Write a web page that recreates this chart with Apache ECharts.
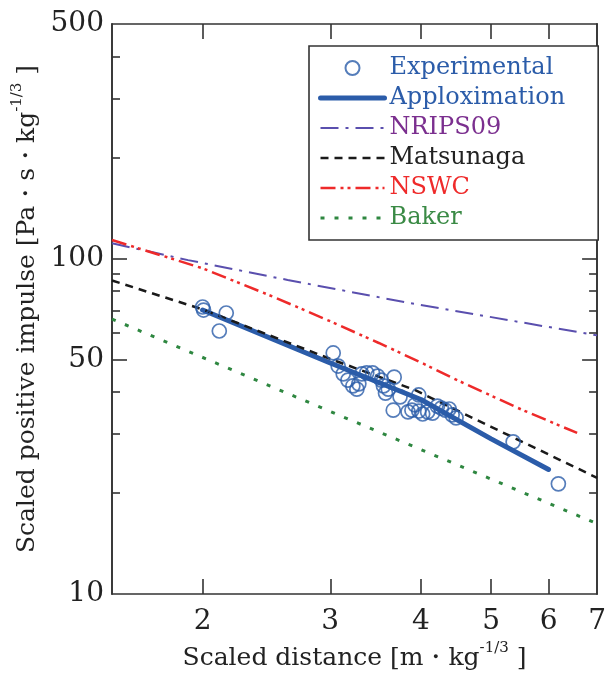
<!DOCTYPE html>
<html>
<head>
<meta charset="utf-8">
<script src="https://cdn.jsdelivr.net/npm/echarts@6/dist/echarts.min.js"></script>
<style>
  html, body { margin: 0; padding: 0; background: #fff; }
  #chart { width: 609px; height: 687px; }
</style>
</head>
<body>
<div id="chart"></div>
<script>
// Measured scaled impulse vs scaled distance
const experimentalX = [2.000, 2.006, 2.156, 2.109, 3.028, 3.076, 3.126, 3.173, 3.223, 3.264,
  3.285, 3.316, 3.368, 3.431, 3.486, 3.529, 3.552, 3.607, 3.675, 3.575,
  3.664, 3.744, 3.840, 3.888, 3.925, 3.973, 3.973, 4.023, 4.087, 4.151,
  4.216, 4.269, 4.323, 4.377, 4.418, 4.473, 5.362, 6.19];
const experimentalY = [71.7, 70.2, 68.8, 60.8, 52.3, 47.8, 45.3, 43.4, 41.7, 40.8,
  42.3, 45.3, 45.6, 45.6, 44.6, 43.4, 41.7, 40.8, 44.3, 39.7,
  35.3, 38.7, 34.9, 35.3, 36.6, 39.2, 35.1, 34.4, 34.9, 34.6,
  36.3, 35.8, 35.3, 35.6, 34.2, 33.5, 28.4, 21.3];

// Fitted curve
const approxX = [2, 3, 4, 5, 6];
const approxY = [70.2, 48.8, 38.0, 29.0, 23.5];

// Reference curves
const nripsX = [1.5, 1.91, 2.62, 3.84, 7];
const nripsY = [111, 98.9, 86.3, 73.8, 59.0];

const matsunagaX = [1.5, 1.913, 2, 3, 3.92, 5, 7];
const matsunagaY = [86.0, 72.7, 70.5, 50.2, 40.6, 31.5, 22.2];

const nswcX = [1.5, 2, 2.5, 3, 3.5, 4, 4.5, 5, 5.5, 6, 6.57];
const nswcY = [113.5, 93.5, 77, 65, 56, 49, 43.3, 39, 35.5, 32.8, 30.2];

const bakerX = [1.5, 3, 5, 7];
const bakerY = [66.0, 35.0, 22.0, 16.2];

// Axis ticks and labels
const xTickLabels = [2, 3, 4, 5, 6, 7];
const xTickMarks = [2, 3, 4, 5, 6];
const yTickLabels = [10, 50, 100, 500];
const yMajorTicks = [50, 100];
const yMinorTicks = [20, 30, 40, 60, 70, 80, 90, 200, 300, 400];

const zip = (xs, ys) => xs.map((x, i) => [x, ys[i]]);

const FONT = 'DejaVu Serif';
const BLUE = '#2b5ca9';
const AXIS_COLOR = '#333';

const frameLine = { show: true, lineStyle: { color: AXIS_COLOR, width: 1.6 } };
const nameRich = {
  a: { fontFamily: FONT, fontSize: 25, color: '#222', lineHeight: 30, verticalAlign: 'bottom' },
  s: { fontFamily: FONT, fontSize: 15, color: '#222', lineHeight: 16, verticalAlign: 'top' }
};

function xAxisDef(position, withLabels) {
  return {
    type: 'log', logBase: 10, min: 1.5, max: 7, position: position,
    axisLine: frameLine,
    axisTick: { show: true, inside: true, length: 15, customValues: xTickMarks,
      lineStyle: { color: AXIS_COLOR, width: 1.6 } },
    axisLabel: { show: withLabels, customValues: xTickLabels, margin: 14,
      alignMaxLabel: 'center', alignMinLabel: 'center', hideOverlap: false,
      fontFamily: FONT, fontSize: 28, color: '#222' },
    splitLine: { show: false }, minorTick: { show: false },
    name: withLabels ? '{a|Scaled distance [m・kg}{s|-1/3}{a| ]}' : '',
    nameLocation: 'middle', nameGap: 46,
    nameTextStyle: { rich: nameRich }
  };
}

function yAxisDef(position, ticks, tickLen, labels, name) {
  return {
    type: 'log', logBase: 10, min: 10, max: 500, position: position,
    axisLine: frameLine,
    axisTick: { show: true, inside: true, length: tickLen, customValues: ticks,
      lineStyle: { color: AXIS_COLOR, width: 1.6 } },
    axisLabel: { show: !!labels, customValues: labels || [], margin: 8,
      fontFamily: FONT, fontSize: 28, color: '#222' },
    splitLine: { show: false }, minorTick: { show: false },
    name: name || '',
    nameLocation: 'middle', nameGap: 64, nameRotate: 90,
    nameTextStyle: { rich: nameRich }
  };
}

const lineSeries = (name, data, color, width, dash, cap) => ({
  name: name, type: 'line', data: data, symbol: 'none', smooth: false,
  lineStyle: { color: color, width: width, type: dash, cap: cap || 'butt' },
  itemStyle: { color: color },
  emphasis: { disabled: true }, silent: true
});

// Legend entries for curves show only the stroke, no marker
const noMarker = { color: 'rgba(0,0,0,0)', borderWidth: 0, opacity: 0 };

const chart = echarts.init(document.getElementById('chart'), null, { renderer: 'canvas' });
chart.setOption({
  animation: false,
  backgroundColor: '#fff',
  grid: { left: 112, right: 3, top: 24, bottom: 93 },
  xAxis: [xAxisDef('bottom', true), xAxisDef('top', false)],
  yAxis: [
    yAxisDef('left', yMajorTicks, 15, yTickLabels,
      '{a|Scaled positive impulse [Pa・s・kg}{s|-1/3}{a| ]}'),
    yAxisDef('left', yMinorTicks, 8, null, ''),
    yAxisDef('right', yMajorTicks, 15, null, ''),
    yAxisDef('right', yMinorTicks, 8, null, '')
  ],
  legend: {
    orient: 'vertical', left: 309, top: 46,
    padding: [7, 33, 7, 9], itemWidth: 64, itemHeight: 14, itemGap: 0,
    backgroundColor: '#fff', borderColor: AXIS_COLOR, borderWidth: 1.6, borderRadius: 0,
    selectedMode: false,
    textStyle: { fontFamily: FONT, fontSize: 24, lineHeight: 30 },
    data: [
      { name: 'Experimental', textStyle: { color: BLUE } },
      { name: 'Apploximation', textStyle: { color: BLUE }, itemStyle: noMarker,
        lineStyle: { width: 5, cap: 'round' } },
      { name: 'NRIPS09', textStyle: { color: '#7b2f8f' }, itemStyle: noMarker, lineStyle: { width: 2 } },
      { name: 'Matsunaga', textStyle: { color: '#222' }, itemStyle: noMarker, lineStyle: { width: 2.5 } },
      { name: 'NSWC', textStyle: { color: '#ef2a2a' }, itemStyle: noMarker, lineStyle: { width: 2.5 } },
      { name: 'Baker', textStyle: { color: '#3a8a45' }, itemStyle: noMarker, lineStyle: { width: 3 } }
    ]
  },
  series: [
    {
      name: 'Experimental', type: 'scatter', data: zip(experimentalX, experimentalY),
      symbol: 'circle', symbolSize: 14,
      itemStyle: { color: 'rgba(255,255,255,0)', borderColor: BLUE, borderWidth: 1.7 },
      emphasis: { disabled: true }, silent: true, z: 3
    },
    lineSeries('Apploximation', zip(approxX, approxY), BLUE, 5, 'solid', 'round'),
    lineSeries('NRIPS09', zip(nripsX, nripsY), '#5a4fae', 2, [18, 7, 3, 7]),
    lineSeries('Matsunaga', zip(matsunagaX, matsunagaY), '#1a1a1a', 2.5, [8, 6]),
    lineSeries('NSWC', zip(nswcX, nswcY), '#ee2a2a', 2.5, [15, 5, 3, 4, 3, 5]),
    lineSeries('Baker', zip(bakerX, bakerY), '#2e8740', 3, [4, 10])
  ]
});
</script>
</body>
</html>
